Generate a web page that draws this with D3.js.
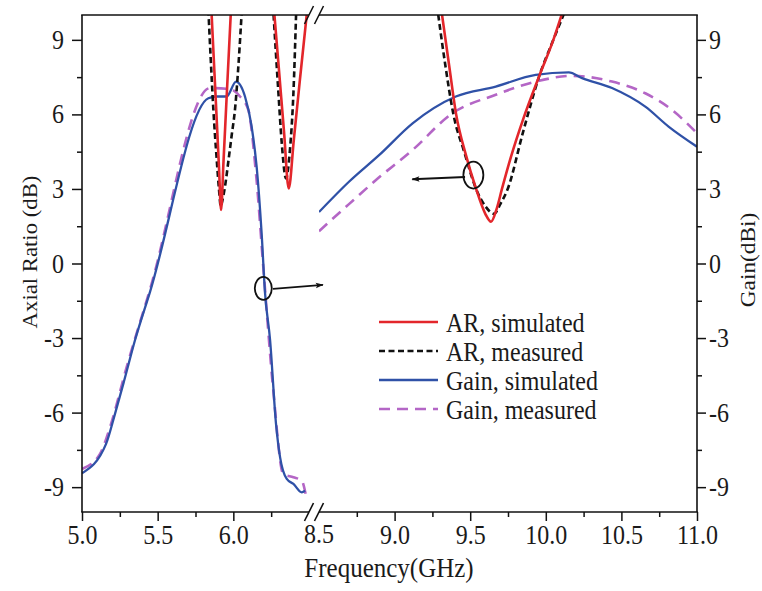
<!DOCTYPE html>
<html>
<head>
<meta charset="utf-8">
<script src="https://cdn.jsdelivr.net/npm/d3@7"></script>
<style>
  html, body { margin: 0; padding: 0; background: #fff; }
  svg { display: block; }
  text { font-family: 'Liberation Serif', 'Times New Roman', serif; fill: #1a1a1a; }
</style>
</head>
<body>
<svg id="chart" width="762" height="591"></svg>
<script>
'use strict';

// broken frequency axis: two segments
var segLeft = [5.0, 6.5];
var segRight = [8.5, 11.0];
var yDomain = [-10, 10];

var xTicksLeft = [5.0, 5.5, 6.0];
var xMinorLeft = [5.25, 5.75, 6.25];
var xTicksRight = [8.5, 9.0, 9.5, 10.0, 10.5, 11.0];
var xMinorRight = [8.75, 9.25, 9.75, 10.25, 10.75];
var yTicks = [-9, -6, -3, 0, 3, 6, 9];
var yMinor = [-7.5, -4.5, -1.5, 1.5, 4.5, 7.5];

// [frequency GHz, dB]; null breaks the line where AR runs off the top
var arSimLeft = [
  [5.848, 11.1], [5.885, 6.45], [5.905, 3.9], [5.919, 2.15], [5.935, 4.1], [5.955, 6.6], [5.990, 10.9],
  null,
  [6.262, 10.7], [6.300, 7.9], [6.335, 5.3], [6.366, 3.02], [6.400, 5.0], [6.440, 7.4], [6.490, 10.3]
];
var arMeasLeft = [
  [5.832, 10.6], [5.850, 8.3], [5.868, 6.2], [5.890, 4.2], [5.905, 3.0], [5.917, 2.3], [5.930, 2.6],
  [5.945, 3.1], [5.969, 4.2], [5.990, 5.2], [6.011, 6.2], [6.035, 8.1], [6.058, 10.4],
  null,
  [6.262, 10.4], [6.280, 8.6], [6.298, 6.86], [6.320, 4.84], [6.348, 3.43], [6.374, 4.57], [6.397, 6.86], [6.416, 10.3]
];
var arSimRight = [
  [9.300, 10.6], [9.360, 8.0], [9.407, 6.0], [9.470, 4.4], [9.539, 3.0], [9.600, 2.0], [9.638, 1.68],
  [9.675, 2.2], [9.710, 3.0], [9.770, 4.3], [9.850, 5.8], [9.957, 7.55], [10.050, 9.0], [10.120, 10.3]
];
var arMeasRight = [
  [9.280, 10.4], [9.335, 8.0], [9.389, 6.0], [9.460, 4.5], [9.539, 3.0], [9.603, 2.28], [9.658, 2.0],
  [9.700, 2.4], [9.748, 3.0], [9.850, 5.3], [9.957, 7.55], [10.050, 9.0], [10.130, 10.2]
];
var gainSimLeft = [
  [5.000, -8.44], [5.159, -7.26], [5.218, -6.05], [5.278, -4.73], [5.350, -3.09], [5.449, -1.15],
  [5.835, 6.65], [5.890, 6.72], [5.956, 6.72], [6.018, 7.32], [6.077, 6.72], [6.121, 5.51], [6.154, 3.9],
  [6.187, 1.21], [6.209, -1.15], [6.243, -3.09], [6.282, -6.45], [6.309, -7.8], [6.353, -8.67],
  [6.397, -8.87], [6.452, -9.21], [6.474, -9.14]
];
var gainMeasLeft = [
  [5.000, -8.27], [5.119, -7.66], [5.185, -6.59], [5.295, -4.17], [5.449, -1.05], [5.846, 7.06],
  [5.978, 7.02], [6.044, 6.72], [6.099, 6.18], [6.150, 3.6], [6.198, -0.14], [6.264, -5.11],
  [6.330, -8.47], [6.397, -8.6], [6.452, -8.74], [6.480, -9.34]
];
var gainSimRight = [
  [8.500, 2.07], [8.700, 3.3], [8.899, 4.37], [9.119, 5.64], [9.405, 6.72], [9.669, 7.12], [9.933, 7.59],
  [10.152, 7.69], [10.240, 7.46], [10.438, 7.06], [10.658, 6.31], [10.812, 5.51], [11.000, 4.70]
];
var gainMeasRight = [
  [8.500, 1.30], [8.700, 2.4], [8.877, 3.36], [9.119, 4.57], [9.383, 6.05], [9.669, 6.79], [9.933, 7.32],
  [10.174, 7.55], [10.438, 7.32], [10.658, 6.85], [10.834, 6.18], [11.000, 5.24]
];

var legendLabels = ['AR, simulated', 'AR, measured', 'Gain, simulated', 'Gain, measured'];

var svg = d3.select('#chart');

var plotTop = 15, plotBottom = 512;
var xL = d3.scaleLinear().domain(segLeft).range([82, 309]);
var xR = d3.scaleLinear().domain(segRight).range([319, 697]);
var y = d3.scaleLinear().domain(yDomain).range([plotBottom, plotTop]);

// the source figure's lettering is a bit taller than it is wide
var STRETCH = 1.11;

var styles = {
  arSim: {color: '#e3262b', width: 2.6, dash: null},
  arMeas: {color: '#111111', width: 2.6, dash: '6,3.5'},
  gainSim: {color: '#2f51a7', width: 2.3, dash: null},
  gainMeas: {color: '#b466c6', width: 2.6, dash: '11,7'}
};

var defs = svg.append('defs');
defs.append('clipPath').attr('id', 'clipL').append('rect')
  .attr('x', xL.range()[0]).attr('y', plotTop)
  .attr('width', xL.range()[1] - xL.range()[0]).attr('height', plotBottom - plotTop);
defs.append('clipPath').attr('id', 'clipR').append('rect')
  .attr('x', xR.range()[0]).attr('y', plotTop)
  .attr('width', xR.range()[1] - xR.range()[0]).attr('height', plotBottom - plotTop);
defs.append('marker').attr('id', 'head')
  .attr('viewBox', '0 0 10 10').attr('refX', 9).attr('refY', 5)
  .attr('markerUnits', 'userSpaceOnUse')
  .attr('markerWidth', 13).attr('markerHeight', 8).attr('orient', 'auto')
  .append('path').attr('d', 'M0,1.5L10,5L0,8.5L2,5Z').attr('fill', '#111');

function drawSeries(data, xs, clip, st) {
  var line = d3.line()
    .defined(function(d) { return d !== null; })
    .x(function(d) { return xs(d[0]); })
    .y(function(d) { return y(d[1]); })
    .curve(d3.curveMonotoneX);
  svg.append('path')
    .datum(data)
    .attr('clip-path', 'url(#' + clip + ')')
    .attr('fill', 'none')
    .attr('stroke', st.color)
    .attr('stroke-width', st.width)
    .attr('stroke-dasharray', st.dash)
    .attr('stroke-linejoin', 'round')
    .attr('d', line);
}

// gain first, AR on top
drawSeries(gainMeasLeft, xL, 'clipL', styles.gainMeas);
drawSeries(gainSimLeft, xL, 'clipL', styles.gainSim);
drawSeries(gainMeasRight, xR, 'clipR', styles.gainMeas);
drawSeries(gainSimRight, xR, 'clipR', styles.gainSim);
drawSeries(arMeasLeft, xL, 'clipL', styles.arMeas);
drawSeries(arSimLeft, xL, 'clipL', styles.arSim);
drawSeries(arMeasRight, xR, 'clipR', styles.arMeas);
drawSeries(arSimRight, xR, 'clipR', styles.arSim);

// rings and arrows pointing to the matching axis
var rings = [
  {xs: xL, f: 6.198, v: -1.0, rx: 8.5, ry: 11.5},
  {xs: xR, f: 9.521, v: 3.56, rx: 10, ry: 13.5}
];
var arrows = [
  {xs: xL, f0: 6.262, v0: -1.02, f1: 6.592, v1: -0.86},
  {xs: xR, f0: 9.466, v0: 3.48, f1: 9.117, v1: 3.39}
];
rings.forEach(function(r) {
  svg.append('ellipse')
    .attr('cx', r.xs(r.f)).attr('cy', y(r.v))
    .attr('rx', r.rx).attr('ry', r.ry)
    .attr('fill', 'none').attr('stroke', '#111').attr('stroke-width', 1.8);
});
arrows.forEach(function(a) {
  svg.append('line')
    .attr('x1', a.xs(a.f0)).attr('y1', y(a.v0))
    .attr('x2', a.xs(a.f1)).attr('y2', y(a.v1))
    .attr('stroke', '#111').attr('stroke-width', 1.8)
    .attr('marker-end', 'url(#head)');
});

// axes
var fmtX = d3.format('.1f');
var fmtY = function(d) { return String(d); };   // plain hyphen, as in the figure
var fontSize = 24;

// move x/y of each text into a transform so it can be stretched vertically
function stretch(sel) {
  sel.each(function() {
    var t = d3.select(this);
    var tx = +t.attr('x') || 0, ty = +t.attr('y') || 0;
    t.attr('x', 0).attr('y', 0)
      .attr('transform', 'translate(' + tx + ',' + ty + ') scale(1,' + STRETCH + ')');
  });
}

function styleAxis(g) {
  g.select('.domain').remove();
  g.selectAll('.tick line').attr('stroke', '#111').attr('stroke-width', 1.5);
  g.selectAll('.tick text').style('font-size', fontSize + 'px').attr('fill', '#1a1a1a').call(stretch);
}

[[xL, xTicksLeft, xMinorLeft], [xR, xTicksRight, xMinorRight]].forEach(function(s) {
  svg.append('g').attr('transform', 'translate(0,' + plotBottom + ')')
    .call(d3.axisBottom(s[0]).tickValues(s[1].filter(function(t) { return t !== 8.5; }))
      .tickSize(9).tickPadding(4).tickFormat(fmtX))
    .call(styleAxis);
  svg.append('g').attr('transform', 'translate(0,' + plotBottom + ')')
    .call(d3.axisBottom(s[0]).tickValues(s[2]).tickSize(5).tickFormat(''))
    .call(styleAxis);
});
// 8.5 label sits under the break mark, without a tick
svg.append('text')
  .attr('x', xR(8.5)).attr('y', 543)
  .attr('text-anchor', 'middle').style('font-size', fontSize + 'px')
  .text(fmtX(8.5))
  .call(stretch);

svg.append('g').attr('transform', 'translate(82,0)')
  .call(d3.axisLeft(y).tickValues(yTicks).tickSize(10).tickPadding(8).tickFormat(fmtY))
  .call(styleAxis);
svg.append('g').attr('transform', 'translate(82,0)')
  .call(d3.axisLeft(y).tickValues(yMinor).tickSize(5).tickFormat(''))
  .call(styleAxis);
svg.append('g').attr('transform', 'translate(697,0)')
  .call(d3.axisRight(y).tickValues(yTicks).tickSize(9).tickPadding(3).tickFormat(fmtY))
  .call(styleAxis);
svg.append('g').attr('transform', 'translate(697,0)')
  .call(d3.axisRight(y).tickValues(yMinor).tickSize(5).tickFormat(''))
  .call(styleAxis);

// frame, with gaps at the break
var frame = svg.append('g').attr('stroke', '#111').attr('stroke-width', 1.6).attr('fill', 'none');
[plotTop, plotBottom].forEach(function(yy) {
  frame.append('line').attr('x1', xL.range()[0] - 0.8).attr('x2', xL.range()[1]).attr('y1', yy).attr('y2', yy);
  frame.append('line').attr('x1', xR.range()[0]).attr('x2', xR.range()[1] + 0.8).attr('y1', yy).attr('y2', yy);
  [xL.range()[1], xR.range()[0]].forEach(function(bx) {
    frame.append('line')
      .attr('x1', bx - 4.5).attr('y1', yy + 9)
      .attr('x2', bx + 4.5).attr('y2', yy - 9)
      .attr('stroke-width', 1.6);
  });
});
frame.append('line').attr('x1', 82).attr('x2', 82).attr('y1', plotTop).attr('y2', plotBottom);
frame.append('line').attr('x1', 697).attr('x2', 697).attr('y1', plotTop).attr('y2', plotBottom);

// axis titles (rotated, so the stretch runs along the text)
svg.append('text')
  .attr('transform', 'translate(37,252) rotate(-90) scale(' + STRETCH + ',1)')
  .attr('text-anchor', 'middle').style('font-size', '20.5px')
  .text('Axial Ratio (dB)');
svg.append('text')
  .attr('transform', 'translate(755,260) rotate(-90) scale(' + STRETCH + ',1)')
  .attr('text-anchor', 'middle').style('font-size', '21px')
  .text('Gain(dBi)');
svg.append('text')
  .attr('x', 389).attr('y', 577)
  .attr('text-anchor', 'middle').style('font-size', '25px')
  .text('Frequency(GHz)')
  .call(stretch);

// legend
var legendKeys = ['arSim', 'arMeas', 'gainSim', 'gainMeas'];
var lg = svg.append('g').attr('transform', 'translate(379,322)');
legendKeys.forEach(function(k, i) {
  var st = styles[k];
  var row = lg.append('g').attr('transform', 'translate(0,' + (i * 29) + ')');
  row.append('line')
    .attr('x1', 0).attr('x2', 59).attr('y1', 0).attr('y2', 0)
    .attr('stroke', st.color).attr('stroke-width', st.width)
    .attr('stroke-dasharray', st.dash);
  row.append('text')
    .attr('x', 67).attr('y', 9.5)
    .style('font-size', '24px')
    .text(legendLabels[i])
    .call(stretch);
});
</script>
</body>
</html>
